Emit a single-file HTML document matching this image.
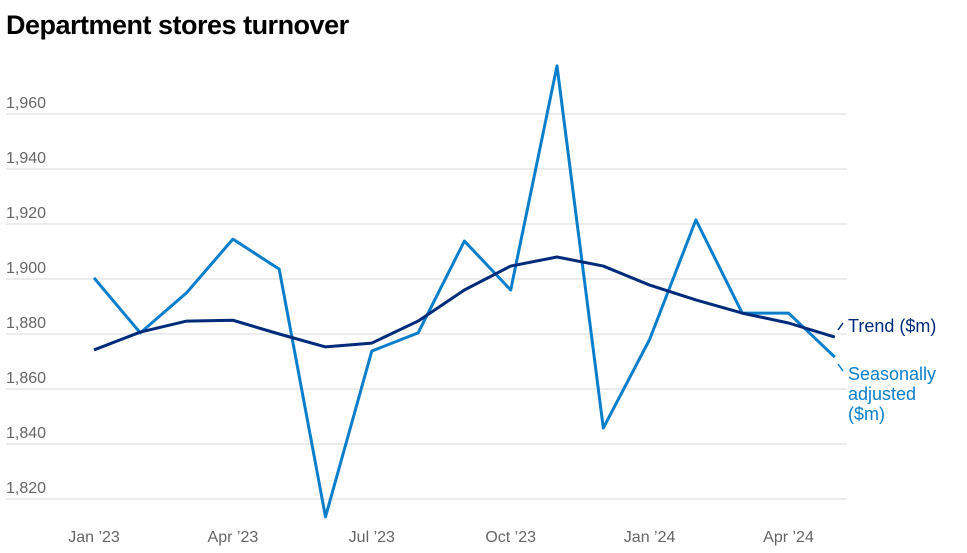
<!DOCTYPE html>
<html><head><meta charset="utf-8"><style>
body{margin:0;background:#fff;font-family:"Liberation Sans",sans-serif}
svg{display:block}
</style></head><body>
<svg id="chart" width="967" height="553" viewBox="0 0 967 553">
<text x="6" y="34" font-size="27" font-weight="bold" fill="#000" letter-spacing="-0.5">Department stores turnover</text>
<g id="grid"></g><g id="xt"></g><g id="lines"></g>
<line x1="838" y1="330" x2="843" y2="323" stroke="#002a7a" stroke-width="1.5"/>
<line x1="838" y1="364" x2="843" y2="371" stroke="#0a7ecb" stroke-width="1.5"/>
<text x="848" y="332" font-size="18" fill="#002a7a">Trend ($m)</text>
<text font-size="18" fill="#0a7ecb"><tspan x="848" y="380">Seasonally</tspan><tspan x="848" y="400">adjusted</tspan><tspan x="848" y="420">($m)</tspan></text>
</svg>
<script>
const months=["Jan '23","Feb '23","Mar '23","Apr '23","May '23","Jun '23","Jul '23","Aug '23","Sep '23","Oct '23","Nov '23","Dec '23","Jan '24","Feb '24","Mar '24","Apr '24","May '24"];
const seasonal=[1900.4,1880.4,1895,1914.5,1903.6,1813.5,1873.8,1880.4,1913.8,1896,1977.5,1845.8,1878,1921.5,1887.6,1887.6,1871.6];
const trend=[1874.2,1880.7,1884.7,1885,1880,1875.3,1876.7,1884.7,1896,1904.7,1908,1904.7,1897.8,1892.4,1887.6,1884,1878.9];
const yTicks=[1820,1840,1860,1880,1900,1920,1940,1960];
const xTickIdx=[0,3,6,9,12,15];
const ns="http://www.w3.org/2000/svg";
const x=i=>94+i*46.3;
const y=v=>499-(v-1820)*2.75;
const grid=document.getElementById('grid');
yTicks.forEach(t=>{
 const l=document.createElementNS(ns,'line');
 
 
 l.setAttribute('x1',6);l.setAttribute('x2',847);l.setAttribute('y1',y(t));l.setAttribute('y2',y(t));
 l.setAttribute('stroke','#d9d9d9');l.setAttribute('stroke-width','1');
 grid.appendChild(l);
 const tx=document.createElementNS(ns,'text');
 
 
 tx.setAttribute('x',6);tx.setAttribute('y',y(t)-6);
 tx.setAttribute('font-size','16');tx.setAttribute('fill','#666');
 tx.textContent=t.toLocaleString('en-US');
 grid.appendChild(tx);
});
const xt=document.getElementById('xt');
xTickIdx.forEach(i=>{
 const tx=document.createElementNS(ns,'text');
 
 
 tx.setAttribute('x',x(i));tx.setAttribute('y',542);
 tx.setAttribute('text-anchor','middle');
 tx.setAttribute('font-size','16');tx.setAttribute('fill','#666');
 tx.textContent=months[i].replace("'","\u2019");
 xt.appendChild(tx);
});
const lines=document.getElementById('lines');
function draw(arr,color,name){
 const p=document.createElementNS(ns,'polyline');
 
 
 p.setAttribute('points',arr.map((v,i)=>x(i)+','+y(v)).join(' '));
 p.setAttribute('fill','none');p.setAttribute('stroke',color);
 p.setAttribute('stroke-width','3');p.setAttribute('stroke-linejoin','round');
 lines.appendChild(p);
}
draw(seasonal,'#0a7ecb','seasonally-adjusted-line');
draw(trend,'#002a7a','trend-line');
</script>
</body></html>
